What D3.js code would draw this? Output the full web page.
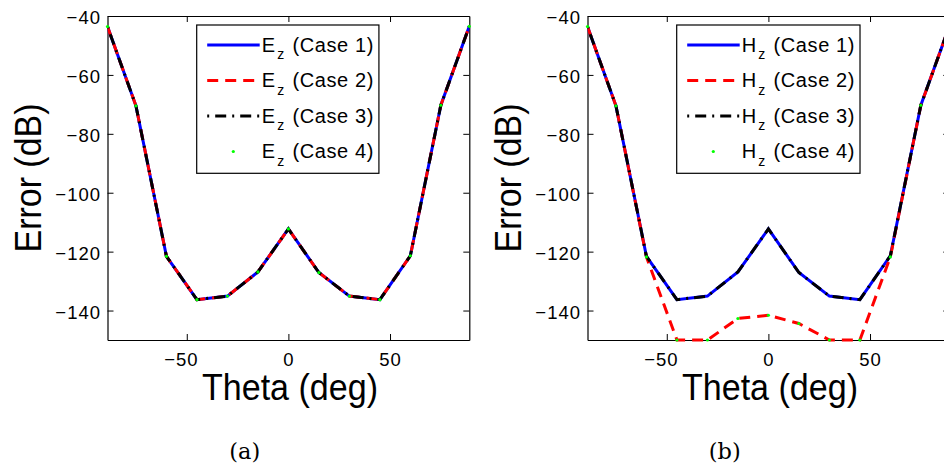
<!DOCTYPE html>
<html>
<head>
<meta charset="utf-8">
<script src="https://cdn.jsdelivr.net/npm/d3@7"></script>
<style>
  html, body { margin: 0; padding: 0; background: #fff; }
  svg { display: block; }
</style>
</head>
<body>
<svg id="chart" width="944" height="467"></svg>
<script>
// Incidence angle samples (deg)
const theta = [-89, -75, -60, -45, -30, -15, 0, 15, 30, 45, 60, 75, 89];

// Ez error (dB) for the four cases
const ezCase1 = [-43.6, -70.5, -121.6, -136.3, -135.1, -126.9, -112.3, -127.1, -135.1, -136.3, -121.4, -70.3, -43.5];
const ezCase2 = [-43.6, -70.5, -121.6, -136.3, -135.1, -126.9, -112.3, -127.1, -135.1, -136.3, -121.4, -70.3, -43.5];
const ezCase3 = [-43.6, -70.5, -121.6, -136.3, -135.1, -126.9, -112.3, -127.1, -135.1, -136.3, -121.4, -70.3, -43.5];
const ezCase4 = [-43.6, -70.5, -121.6, -136.3, -135.1, -126.9, -112.3, -127.1, -135.1, -136.3, -121.4, -70.3, -43.5];

// Hz error (dB) for the four cases
const hzCase1 = [-43.6, -70.5, -121.6, -136.3, -135.1, -126.9, -112.3, -127.1, -135.1, -136.3, -121.4, -70.3, -43.5];
const hzCase2 = [-43.6, -70.5, -121.8, -150.0, -150.0, -142.7, -141.6, -144.4, -150.0, -150.0, -121.8, -70.3, -43.5];
const hzCase3 = [-43.6, -70.5, -121.6, -136.3, -135.1, -126.9, -112.3, -127.1, -135.1, -136.3, -121.4, -70.3, -43.5];
const hzCase4 = [-43.6, -70.5, -121.8, -150.0, -150.0, -142.7, -141.6, -144.4, -150.0, -150.0, -121.8, -70.3, -43.5];

// Axis ranges and ticks
const thetaDomain = [-89, 89];
const errorDomain = [-150, -40];
const xTicks = [-50, 0, 50];
const yTicks = [-140, -120, -100, -80, -60, -40];

// Legend entries
const caseNames = ["(Case 1)", "(Case 2)", "(Case 3)", "(Case 4)"];
const panelFields = ["E", "H"];
const panelCaptions = ["(a)", "(b)"];
const xLabel = "Theta (deg)";
const yLabel = "Error (dB)";

const SANS = "'Liberation Sans', Arial, Helvetica, sans-serif";
const SERIF = "'DejaVu Serif', 'Liberation Serif', serif";

// Line styles for each case: solid blue, dashed red, dash-dot black, green points
const styles = [
  { color: "#0000ff", dash: null },
  { color: "#ff0000", dash: "11,7" },
  { color: "#000000", dash: "2,6,11,6" },
  { color: "#00ff00", points: true }
];

const svg = d3.select("#chart");
svg.append("rect").attr("width", 944).attr("height", 467).attr("fill", "#fff");

const plotW = 361.8, plotTop = 16, plotBottom = 340;
const panelLefts = [107.5, 587.5];
const panelSeries = [
  [ezCase1, ezCase2, ezCase3, ezCase4],
  [hzCase1, hzCase2, hzCase3, hzCase4]
];

panelLefts.forEach((left, pi) => {
  const x = d3.scaleLinear().domain(thetaDomain).range([left, left + plotW]);
  const y = d3.scaleLinear().domain(errorDomain).range([plotBottom, plotTop]);
  const g = svg.append("g");

  // Box axes with inward ticks
  const axStyle = sel => {
    sel.select(".domain").attr("stroke", "#000").attr("stroke-width", 1.2);
    sel.selectAll(".tick line").attr("stroke", "#000").attr("stroke-width", 1);
    sel.selectAll("text").attr("font-family", SANS).attr("font-size", 18.5)
      .attr("fill", "#000").attr("letter-spacing", "1px");
  };

  const bottomAx = g.append("g").attr("transform", `translate(0,${plotBottom})`)
    .call(d3.axisBottom(x).tickValues(xTicks).tickSizeInner(-6).tickSizeOuter(0))
    .call(axStyle);
  bottomAx.selectAll("text").attr("dy", null).attr("y", 26).each(function (d) {
    const t = d3.select(this);
    if (d < 0) {
      // keep the digits centred on the tick, with the minus sign hanging left
      const full = this.getComputedTextLength();
      t.text(String(Math.abs(d)));
      const digits = this.getComputedTextLength();
      t.text("\u2212" + Math.abs(d));
      t.attr("x", -(full - digits) / 2);
    }
  });

  g.append("g").attr("transform", `translate(0,${plotTop})`)
    .call(d3.axisTop(x).tickValues(xTicks).tickSizeInner(-6).tickSizeOuter(0).tickFormat(""))
    .call(axStyle);

  const leftAx = g.append("g").attr("transform", `translate(${left},0)`)
    .call(d3.axisLeft(y).tickValues(yTicks).tickSizeInner(-6).tickSizeOuter(0))
    .call(axStyle);
  leftAx.selectAll("text").attr("dy", null).attr("x", -6.5).attr("y", 7.5);

  g.append("g").attr("transform", `translate(${left + plotW},0)`)
    .call(d3.axisRight(y).tickValues(yTicks).tickSizeInner(-6).tickSizeOuter(0).tickFormat(""))
    .call(axStyle);

  // Clip region for the curves
  const clipId = "clip" + pi;
  svg.append("clipPath").attr("id", clipId).append("rect")
    .attr("x", left).attr("y", plotTop - 2).attr("width", plotW).attr("height", plotBottom - plotTop + 4);

  const line = d3.line().x((d, i) => x(theta[i])).y(d => y(d));
  const dataG = g.append("g");
  panelSeries[pi].forEach((vals, si) => {
    const st = styles[si];
    if (st.points) {
      dataG.append("g").selectAll("circle").data(vals).join("circle")
        .attr("cx", (d, i) => x(theta[i])).attr("cy", d => y(d))
        .attr("r", 1.6).attr("fill", st.color);
    } else {
      dataG.append("path").datum(vals)
        .attr("d", line)
        .attr("clip-path", `url(#${clipId})`)
        .attr("fill", "none").attr("stroke", st.color).attr("stroke-width", 3)
        .attr("stroke-dasharray", st.dash);
    }
  });

  // Legend
  const boxX = left + 89.2, boxY = 25, rowStep = 35.5;
  const lg = g.append("g");
  const box = lg.append("rect").attr("x", boxX).attr("y", boxY).attr("height", 148.3)
    .attr("fill", "#fff").attr("stroke", "#000").attr("stroke-width", 1.2);
  let maxRight = 0;
  caseNames.forEach((name, si) => {
    const st = styles[si];
    const ry = boxY + 20 + si * rowStep;
    if (st.points) {
      lg.append("circle").attr("cx", boxX + 36.6).attr("cy", ry).attr("r", 1.6).attr("fill", st.color);
    } else {
      lg.append("line").attr("x1", boxX + 10.5).attr("x2", boxX + 63).attr("y1", ry).attr("y2", ry)
        .attr("stroke", st.color).attr("stroke-width", 3).attr("stroke-dasharray", st.dash);
    }
    const t = lg.append("text").attr("x", boxX + 65).attr("y", ry + 6.8)
      .attr("font-family", SANS).attr("font-size", 20).attr("fill", "#000")
      .attr("letter-spacing", "0.6px");
    t.append("tspan").text(panelFields[pi]);
    t.append("tspan").attr("font-size", 14).attr("dy", 7.5).attr("dx", 1.5).text("z");
    t.append("tspan").attr("dy", -7.5).attr("dx", 1.5).text(" " + name);
    const bb = t.node().getBBox();
    maxRight = Math.max(maxRight, bb.x + bb.width);
  });
  box.attr("width", maxRight + 5 - boxX);

  // Axis titles
  g.append("text").attr("x", left + 182.5).attr("y", 400)
    .attr("text-anchor", "middle").attr("font-family", SANS).attr("font-size", 37)
    .attr("textLength", 176).attr("lengthAdjust", "spacingAndGlyphs")
    .text(xLabel);
  g.append("text").attr("transform", `translate(${left - 66.8},178) rotate(-90)`)
    .attr("text-anchor", "middle").attr("font-family", SANS).attr("font-size", 37)
    .attr("textLength", 149).attr("lengthAdjust", "spacingAndGlyphs")
    .text(yLabel);

  // Sub-figure caption
  g.append("text").attr("x", left + 137.2).attr("y", 458.5)
    .attr("text-anchor", "middle").attr("font-family", SERIF).attr("font-size", 22.5)
    .text(panelCaptions[pi]);
});
</script>
</body>
</html>
